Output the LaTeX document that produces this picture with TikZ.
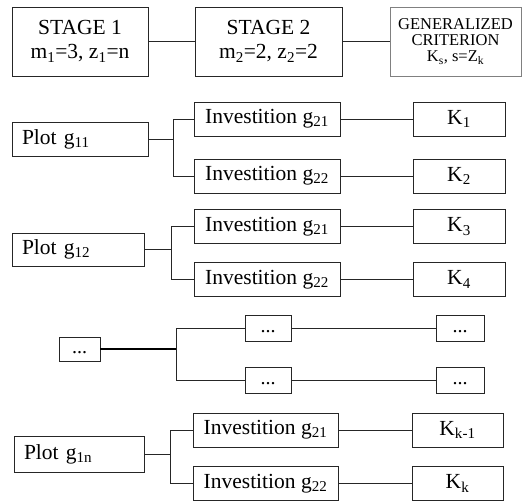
\documentclass[tikz,border=0pt]{standalone}
\usepackage{fontspec}
\setmainfont{Liberation Serif}
\begin{document}
\begin{tikzpicture}[x=1pt,y=-1pt,
  bx/.style={draw=black!85, line width=0.9pt, inner sep=0pt, font=\fontsize{21.5}{24}\selectfont},
  dotbox/.style={bx, font=\fontsize{20}{22}\selectfont},
  ln/.style={draw=black!85, line width=0.9pt},
  thk/.style={draw=black, line width=1.8pt}]
\useasboundingbox (0,0) rectangle (525,501);
% top row
\node[bx, minimum width=136, minimum height=69, align=center] (s1) at (80,41.5) {STAGE 1\\m\textsubscript{1}=3, z\textsubscript{1}=n};
\node[bx, minimum width=147, minimum height=69, align=center] (s2) at (268.5,41.5) {STAGE 2\\m\textsubscript{2}=2, z\textsubscript{2}=2};
\node[bx, draw=black!50, minimum width=131, minimum height=69, align=center, font=\fontsize{16.5}{16}\selectfont] (gen) at (455.5,41.5) {GENERALIZED\\CRITERION\\K\textsubscript{s}, s=Z\textsubscript{k}};
\draw[ln] (s1.east) -- (s2.west);
\draw[ln] (s2.east) -- (gen.west);
% row 1
\node[bx, minimum width=136, minimum height=34, text width=116, align=left] (p1) at (80,139) {Plot g\textsubscript{11}};
\node[bx, minimum width=146, minimum height=34] (i11) at (267,119) {Investition g\textsubscript{21}};
\node[bx, minimum width=146, minimum height=34] (i12) at (267,176) {Investition g\textsubscript{22}};
\node[bx, minimum width=92, minimum height=34] (k1) at (459,119) {K\textsubscript{1}};
\node[bx, minimum width=92, minimum height=34] (k2) at (459,176) {K\textsubscript{2}};
\coordinate (b1) at (173,139);
\draw[ln] (p1.east) -- (b1);
\draw[ln] (b1) |- (i11.west);
\draw[ln] (b1) |- (i12.west);
\draw[ln] (i11.east) -- (k1.west);
\draw[ln] (i12.east) -- (k2.west);
% row 2
\node[bx, minimum width=132, minimum height=33, text width=112, align=left] (p2) at (78,249.5) {Plot g\textsubscript{12}};
\node[bx, minimum width=146, minimum height=34] (i21) at (267,226.5) {Investition g\textsubscript{21}};
\node[bx, minimum width=146, minimum height=34] (i22) at (267,279.5) {Investition g\textsubscript{22}};
\node[bx, minimum width=92, minimum height=34] (k3) at (459,226.5) {K\textsubscript{3}};
\node[bx, minimum width=92, minimum height=34] (k4) at (459,279.5) {K\textsubscript{4}};
\coordinate (b2) at (171,249.5);
\draw[ln] (p2.east) -- (b2);
\draw[ln] (b2) |- (i21.west);
\draw[ln] (b2) |- (i22.west);
\draw[ln] (i21.east) -- (k3.west);
\draw[ln] (i22.east) -- (k4.west);
% row 3 (dots)
\node[dotbox, minimum width=41, minimum height=24] (d0) at (79.5,349) {\vphantom{Ag}...};
\node[dotbox, minimum width=46, minimum height=26] (d1) at (268,328) {\vphantom{Ag}...};
\node[dotbox, minimum width=46, minimum height=26] (d2) at (268,380.5) {\vphantom{Ag}...};
\node[dotbox, minimum width=48, minimum height=26] (e1) at (460,328) {\vphantom{Ag}...};
\node[dotbox, minimum width=48, minimum height=26] (e2) at (460,380.5) {\vphantom{Ag}...};
\coordinate (b3) at (176,349);
\draw[thk] (d0.east) -- (b3);
\draw[ln] (b3) |- (d1.west);
\draw[ln] (b3) |- (d2.west);
\draw[ln] (d1.east) -- (e1.west);
\draw[ln] (d2.east) -- (e2.west);
% row 4
\node[bx, minimum width=130, minimum height=36, text width=110, align=left] (p3) at (79,454) {Plot g\textsubscript{1n}};
\node[bx, minimum width=145, minimum height=34] (i31) at (265.5,430) {Investition g\textsubscript{21}};
\node[bx, minimum width=145, minimum height=34] (i32) at (265.5,483.5) {Investition g\textsubscript{22}};
\node[bx, minimum width=91, minimum height=34] (k5) at (457.5,430) {K\textsubscript{k-1}};
\node[bx, minimum width=91, minimum height=34] (k6) at (457.5,483.5) {K\textsubscript{k}};
\coordinate (b4) at (170,454);
\draw[ln] (p3.east) -- (b4);
\draw[ln] (b4) |- (i31.west);
\draw[ln] (b4) |- (i32.west);
\draw[ln] (i31.east) -- (k5.west);
\draw[ln] (i32.east) -- (k6.west);
\end{tikzpicture}
\end{document}
